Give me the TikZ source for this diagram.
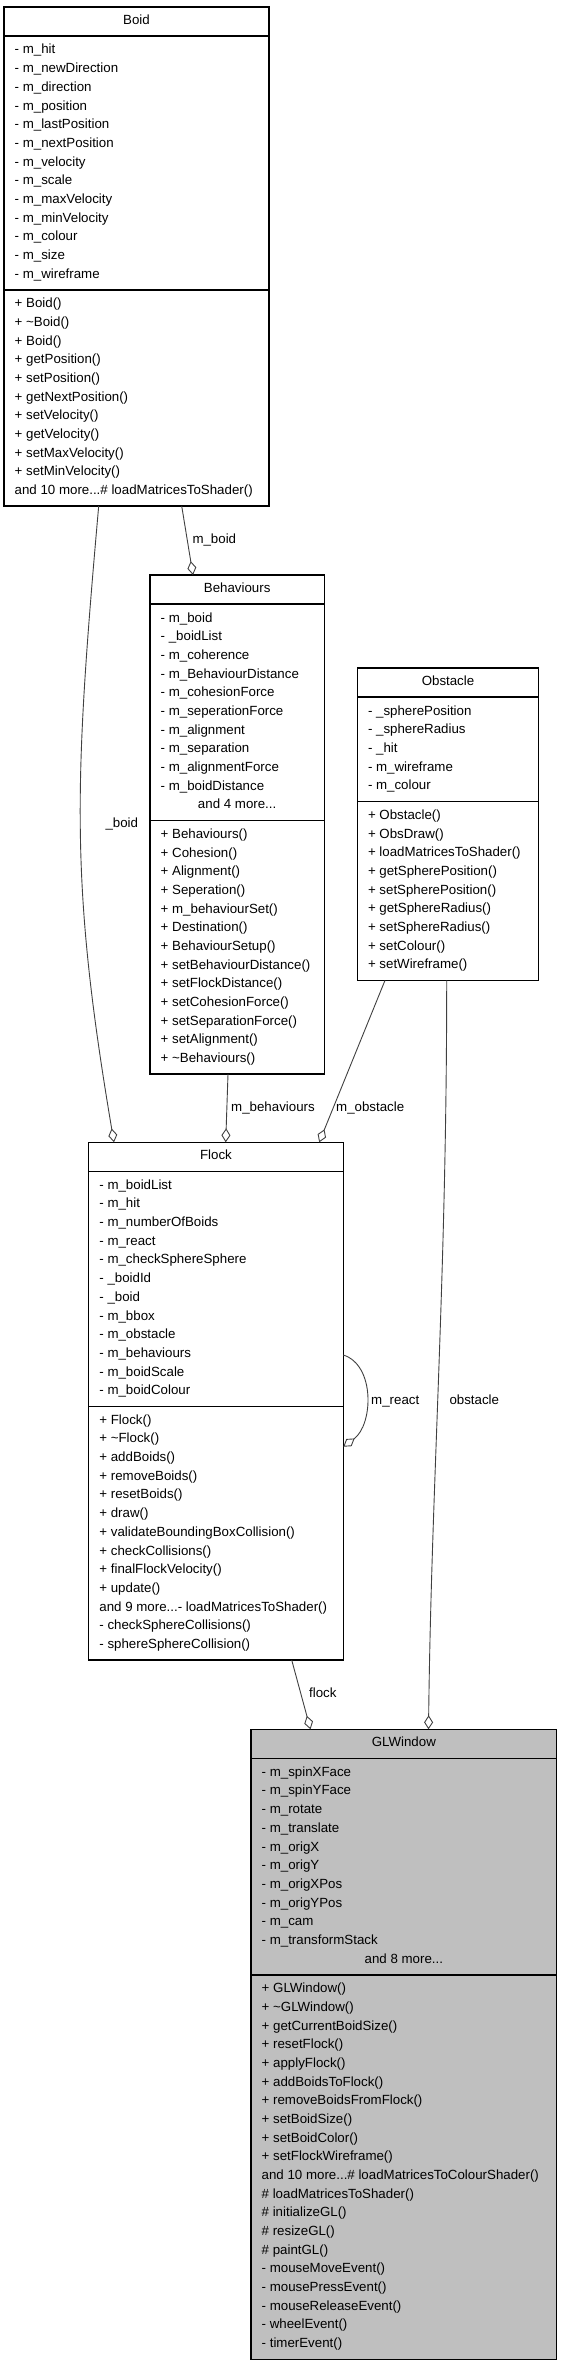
\documentclass[tikz,border=0pt]{standalone}
\usepackage{fontspec}
\setmainfont{Liberation Sans}
\usetikzlibrary{calc}
\usetikzlibrary{arrows.meta}
\definecolor{edgegrey}{HTML}{404040}
\definecolor{classgrey}{HTML}{BFBFBF}
\tikzset{
  classbox/.style={draw=black, line width=1.1pt, fill=white, inner sep=0pt, outer sep=0pt, anchor=north west},
  sepline/.style={draw=black, line width=1.6pt},
  classtitle/.style={anchor=base, inner sep=0pt},
  member/.style={anchor=base west, inner sep=0pt},
  rolename/.style={anchor=base west, inner sep=0pt},
  assoc/.style={draw=edgegrey, line width=0.9pt, -{Diamond[fill=white, length=14pt, width=9pt]}},
}
\newcommand{\moredots}{...}
% one compartment of a class: node, tag, offset of the compartment, lines
\newcommand{\memberlist}[4]{%
  \foreach \m [count=\k from 0] in {#4}
    \node[member] (#1#2\k) at ($(#1.north west)+(10.5,#3+18+\k*18.67)$) {\m};
}

\begin{document}
\begin{tikzpicture}[x=1pt, y=-1pt, font=\fontsize{13.3}{16}\selectfont]
\useasboundingbox (0,0) rectangle (561,2365);

% Boid
\node[classbox, minimum width=265pt, minimum height=499pt] (boid) at (4,7) {};
\draw[sepline] ($(boid.north west)+(0,29)$) -- ($(boid.north east)+(0,29)$);
\draw[sepline] ($(boid.north west)+(0,282.7)$) -- ($(boid.north east)+(0,282.7)$);
\node[classtitle] (boidtitle) at ($(boid.north)+(0,17.3)$) {Boid};
\memberlist{boid}{attr}{29}{- m\_hit, - m\_newDirection, - m\_direction, - m\_position, - m\_lastPosition, - m\_nextPosition, - m\_velocity, - m\_scale, - m\_maxVelocity, - m\_minVelocity, - m\_colour, - m\_size, - m\_wireframe}
\memberlist{boid}{op}{282.7}{+ Boid(), + \textasciitilde Boid(), + Boid(), + getPosition(), + setPosition(), + getNextPosition(), + setVelocity(), + getVelocity(), + setMaxVelocity(), + setMinVelocity(), and 10 more\moredots\# loadMatricesToShader()}

% Behaviours
\node[classbox, minimum width=174.3pt, minimum height=499pt] (behaviours) at (150,575) {};
\draw[sepline] ($(behaviours.north west)+(0,29)$) -- ($(behaviours.north east)+(0,29)$);
\draw[sepline] ($(behaviours.north west)+(0,245.4)$) -- ($(behaviours.north east)+(0,245.4)$);
\node[classtitle] (behaviourstitle) at ($(behaviours.north)+(0,17.3)$) {Behaviours};
\memberlist{behaviours}{attr}{29}{- m\_boid, - \_boidList, - m\_coherence, - m\_BehaviourDistance, - m\_cohesionForce, - m\_seperationForce, - m\_alignment, - m\_separation, - m\_alignmentForce, - m\_boidDistance}
\node[classtitle] (behavioursmore) at ($(behaviours.north)+(0,233.7)$) {and 4 more\moredots};
\memberlist{behaviours}{op}{245.4}{+ Behaviours(), + Cohesion(), + Alignment(), + Seperation(), + m\_behaviourSet(), + Destination(), + BehaviourSetup(), + setBehaviourDistance(), + setFlockDistance(), + setCohesionForce(), + setSeparationForce(), + setAlignment(), + \textasciitilde Behaviours()}

% Obstacle
\node[classbox, minimum width=181.4pt, minimum height=312.4pt] (obstacle) at (357.3,668) {};
\draw[sepline] ($(obstacle.north west)+(0,29)$) -- ($(obstacle.north east)+(0,29)$);
\draw[sepline] ($(obstacle.north west)+(0,133.4)$) -- ($(obstacle.north east)+(0,133.4)$);
\node[classtitle] (obstacletitle) at ($(obstacle.north)+(0,17.3)$) {Obstacle};
\memberlist{obstacle}{attr}{29}{- \_spherePosition, - \_sphereRadius, - \_hit, - m\_wireframe, - m\_colour}
\memberlist{obstacle}{op}{133.4}{+ Obstacle(), + ObsDraw(), + loadMatricesToShader(), + getSpherePosition(), + setSpherePosition(), + getSphereRadius(), + setSphereRadius(), + setColour(), + setWireframe()}

% Flock
\node[classbox, minimum width=254.6pt, minimum height=517.7pt] (flock) at (88.7,1142.3) {};
\draw[sepline] ($(flock.north west)+(0,29)$) -- ($(flock.north east)+(0,29)$);
\draw[sepline] ($(flock.north west)+(0,264)$) -- ($(flock.north east)+(0,264)$);
\node[classtitle] (flocktitle) at ($(flock.north)+(0,17.3)$) {Flock};
\memberlist{flock}{attr}{29}{- m\_boidList, - m\_hit, - m\_numberOfBoids, - m\_react, - m\_checkSphereSphere, - \_boidId, - \_boid, - m\_bbox, - m\_obstacle, - m\_behaviours, - m\_boidScale, - m\_boidColour}
\memberlist{flock}{op}{264}{+ Flock(), + \textasciitilde Flock(), + addBoids(), + removeBoids(), + resetBoids(), + draw(), + validateBoundingBoxCollision(), + checkCollisions(), + finalFlockVelocity(), + update(), and 9 more\moredots- loadMatricesToShader(), - checkSphereCollisions(), - sphereSphereCollision()}

% GLWindow
\node[classbox, fill=classgrey, minimum width=305.7pt, minimum height=629.8pt] (glwindow) at (251,1729.3) {};
\draw[sepline] ($(glwindow.north west)+(0,29)$) -- ($(glwindow.north east)+(0,29)$);
\draw[sepline] ($(glwindow.north west)+(0,245.4)$) -- ($(glwindow.north east)+(0,245.4)$);
\node[classtitle] (glwindowtitle) at ($(glwindow.north)+(0,17.3)$) {GLWindow};
\memberlist{glwindow}{attr}{29}{- m\_spinXFace, - m\_spinYFace, - m\_rotate, - m\_translate, - m\_origX, - m\_origY, - m\_origXPos, - m\_origYPos, - m\_cam, - m\_transformStack}
\node[classtitle] (glwindowmore) at ($(glwindow.north)+(0,233.7)$) {and 8 more\moredots};
\memberlist{glwindow}{op}{245.4}{+ GLWindow(), + \textasciitilde GLWindow(), + getCurrentBoidSize(), + resetFlock(), + applyFlock(), + addBoidsToFlock(), + removeBoidsFromFlock(), + setBoidSize(), + setBoidColor(), + setFlockWireframe(), and 10 more\moredots\# loadMatricesToColourShader(), \# loadMatricesToShader(), \# initializeGL(), \# resizeGL(), \# paintGL(), - mouseMoveEvent(), - mousePressEvent(), - mouseReleaseEvent(), - wheelEvent(), - timerEvent()}

% associations
\draw[assoc] ($(boid.south west)+(94.7,0)$) .. controls +(-24.7,280) and +(-44,-260) .. ($(flock.north west)+(25.3,0)$);
\draw[assoc] ($(boid.south west)+(177.7,0)$) -- ($(behaviours.north west)+(43,0)$);
\draw[assoc] ($(behaviours.south west)+(78,0)$) -- ($(flock.north west)+(137,0)$);
\draw[assoc] ($(obstacle.south west)+(27.7,0)$) -- ($(flock.north west)+(230.5,0)$);
\draw[assoc] ($(obstacle.south west)+(89.4,0)$) .. controls +(0,300) and +(3,-250) .. ($(glwindow.north west)+(177.5,0)$);
\draw[assoc] ($(flock.south west)+(203,0)$) -- ($(glwindow.north west)+(59.5,0)$);
\draw[assoc] ($(flock.north east)+(0,212.7)$) .. controls +(32,10) and +(30,-22) .. ($(flock.north east)+(0,304.4)$);

\node[rolename] (lblmboid) at (192.3,543.4) {m\_boid};
\node[rolename] (lblboid) at (105.3,827) {\_boid};
\node[rolename] (lblbehaviours) at (231,1111.4) {m\_behaviours};
\node[rolename] (lblmobstacle) at (336,1111.4) {m\_obstacle};
\node[rolename] (lblreact) at (371,1404) {m\_react};
\node[rolename] (lblobstacle) at (449.3,1404) {obstacle};
\node[rolename] (lblflock) at (309,1697.4) {flock};
\end{tikzpicture}
\end{document}
